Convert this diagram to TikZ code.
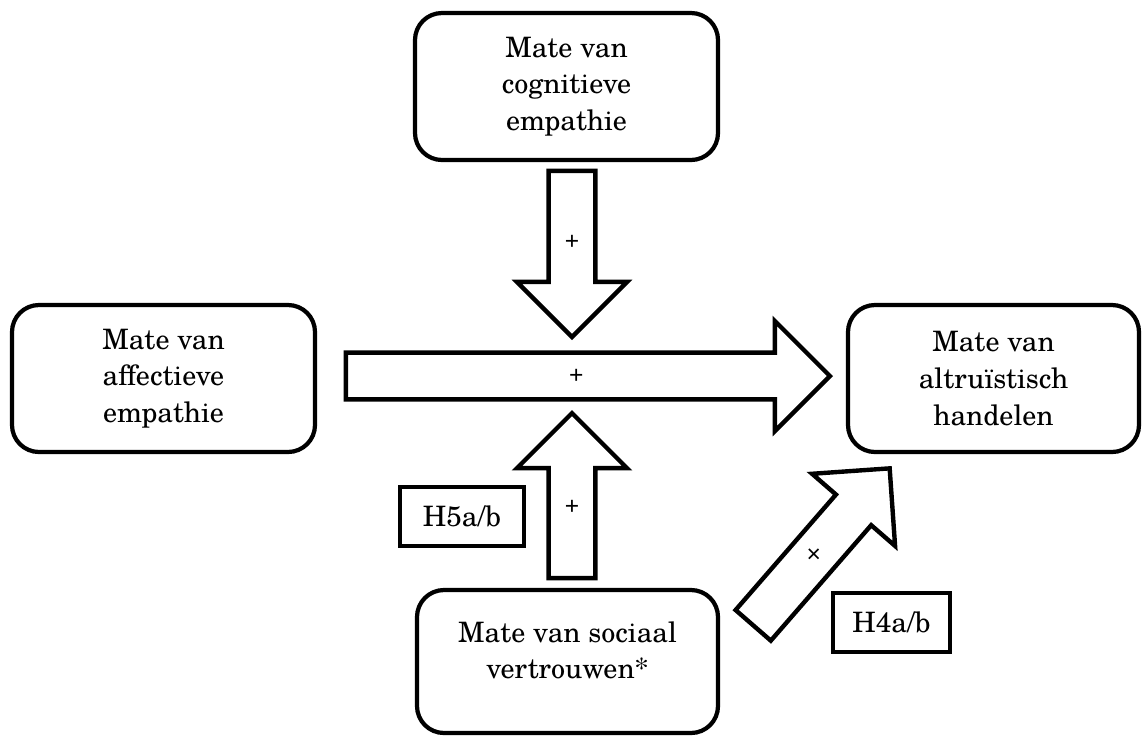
\documentclass[tikz,border=0pt]{standalone}
\usepackage{fontspec}
\setmainfont{texgyreschola}[Extension=.otf,UprightFont=*-regular,BoldFont=*-bold,ItalicFont=*-italic,BoldItalicFont=*-bolditalic]
\newfontfamily\plusfont{Liberation Sans}
\usetikzlibrary{shapes.arrows}
\begin{document}
\begin{tikzpicture}[x=0.2mm,y=-0.2mm,
	box/.style={draw,line width=2.4pt,rounded corners=5.4mm,align=center,inner sep=0pt,font=\fontsize{16}{20.8}\selectfont},
	hypbox/.style={draw,line width=2.4pt,inner sep=0pt,font=\fontsize{16}{20.8}\selectfont},
	blockarrow/.style={single arrow,draw,line width=2.5pt,minimum width=22mm,single arrow head extend=3.6mm,single arrow tip angle=90,shape border uses incircle,inner sep=0pt,font=\plusfont\fontsize{14}{16}\selectfont}]
	\useasboundingbox (0,0) rectangle (1143,735);

	%boxes
	\node[box,minimum width=60.6mm,minimum height=29.4mm] (cogn) at (566.5,86.5) {Mate van\\cognitieve\\empathie}; %top
	\node[box,minimum width=60.6mm,minimum height=29.4mm] (affect) at (163.5,378.5) {Mate van\\affectieve\\empathie}; %left
	\node[box,minimum width=58.2mm,minimum height=29.4mm] (altru) at (993.5,378.5) {Mate van\\altruïstisch\\handelen}; %right
	\node[box,minimum width=60.2mm,minimum height=28.6mm] (trust) at (567.5,661.5) {Mate van sociaal\\vertrouwen*\\[-8pt]\mbox{}}; %bottom

	%hypotheses
	\node[hypbox,minimum width=24.8mm,minimum height=11.8mm] (hfive) at (462,516.5) {H5a/b};
	\node[hypbox,minimum width=23.4mm,minimum height=11.8mm] (hfour) at (891.5,622.5) {H4a/b};

	%arrows
	\node[blockarrow,minimum height=33.2mm,shape border rotate=270,anchor=tip] (cognarrow) at (572,340) {+}; %down
	\node[blockarrow,minimum height=96.8mm,anchor=tip] (mainarrow) at (833,376) {+}; %affect -> altru
	\node[blockarrow,minimum height=33mm,shape border rotate=90,anchor=tip] (trustarrow) at (572,410) {+}; %up
	\node[blockarrow,minimum height=41.6mm,shape border rotate=49,anchor=tip] (diagarrow) at (891.7,466) {×}; %trust -> altru
\end{tikzpicture}
\end{document}
